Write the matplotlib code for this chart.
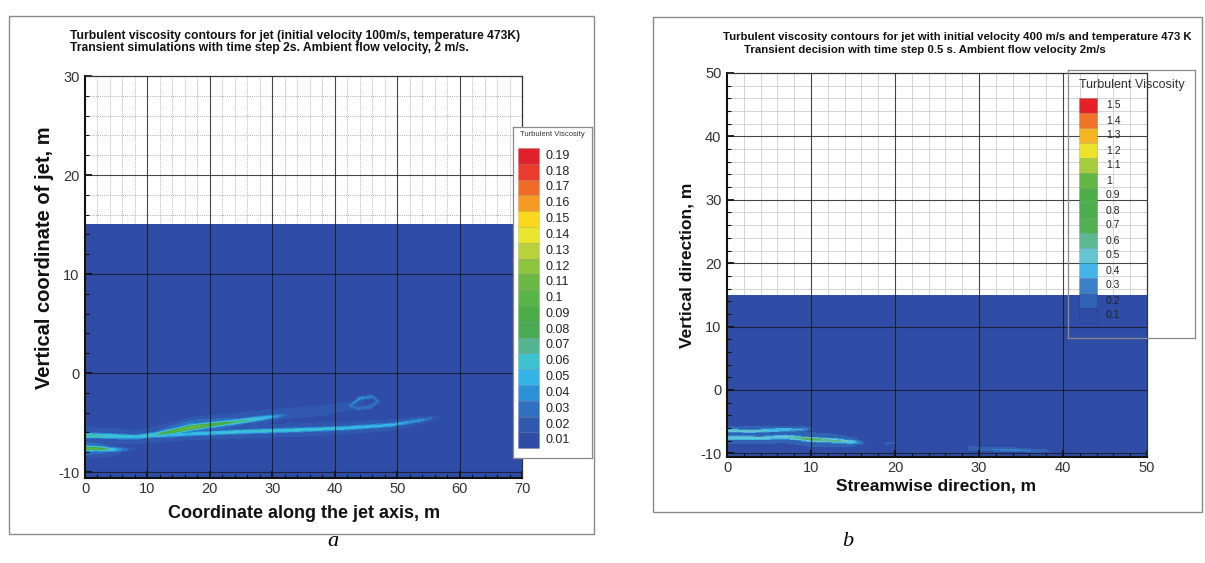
import numpy as np
import matplotlib
matplotlib.use("Agg")
import matplotlib.pyplot as plt
from matplotlib.patches import Rectangle
from matplotlib.colors import ListedColormap, BoundaryNorm
from matplotlib.ticker import MultipleLocator

plt.rcParams['font.family'] = ['Liberation Sans', 'DejaVu Sans']
plt.rcParams['axes.unicode_minus'] = False

# ---- panel a: jet 100 m/s, time step 2 s ----
levels_a = [0.01, 0.02, 0.03, 0.04, 0.05, 0.06, 0.07, 0.08, 0.09, 0.1,
            0.11, 0.12, 0.13, 0.14, 0.15, 0.16, 0.17, 0.18, 0.19]
labels_a = ['0.01', '0.02', '0.03', '0.04', '0.05', '0.06', '0.07', '0.08', '0.09', '0.1',
            '0.11', '0.12', '0.13', '0.14', '0.15', '0.16', '0.17', '0.18', '0.19']
colors_a = ['#2f4ca6', '#3158af', '#2f6fbf', '#2d8fd6', '#35b4e8', '#3ec2d0', '#52b58f',
            '#46ab52', '#4aad4a', '#5ab548', '#6cb844', '#8fc43f', '#b9d23a', '#e8e62e',
            '#fcd81c', '#f59a22', '#f06a28', '#ea3b2c', '#e0202a']

# streak tracks: x [m], y [m], peak turbulent viscosity
a_upper_x = [0, 4, 8, 11, 14, 17, 20, 24, 28, 31, 34]
a_upper_y = [-6.3, -6.35, -6.45, -6.25, -5.9, -5.5, -5.25, -4.95, -4.6, -4.35, -4.1]
a_upper_v = [0.065, 0.06, 0.05, 0.06, 0.09, 0.11, 0.09, 0.07, 0.055, 0.035, 0.0]

a_long_x = [7, 12, 18, 26, 34, 42, 49, 54, 58]
a_long_y = [-6.4, -6.3, -6.1, -5.9, -5.75, -5.55, -5.25, -4.75, -4.3]
a_long_v = [0.02, 0.05, 0.05, 0.055, 0.055, 0.05, 0.045, 0.035, 0.0]

a_low_x = [0, 2, 4, 6, 9]
a_low_y = [-7.6, -7.6, -7.7, -7.7, -7.6]
a_low_v = [0.1, 0.09, 0.06, 0.03, 0.0]

a_ring_x = [42.5, 44.0, 46.0, 47.0, 45.5, 43.5, 42.5]
a_ring_y = [-3.3, -2.6, -2.4, -2.9, -3.5, -3.6, -3.3]
a_ring_v = [0.03, 0.035, 0.03, 0.025, 0.03, 0.025, 0.03]

a_plume_x = [22, 30, 38, 44]
a_plume_y = [-4.6, -4.2, -3.8, -3.2]
a_plume_v = [0.013, 0.018, 0.018, 0.013]

# ---- panel b: jet 400 m/s, time step 0.5 s ----
levels_b = [0.1, 0.2, 0.3, 0.4, 0.5, 0.6, 0.7, 0.8, 0.9, 1.0, 1.1, 1.2, 1.3, 1.4, 1.5]
labels_b = ['0.1', '0.2', '0.3', '0.4', '0.5', '0.6', '0.7', '0.8', '0.9', '1',
            '1.1', '1.2', '1.3', '1.4', '1.5']
colors_b = ['#2f4ca6', '#3063b4', '#3a80c6', '#42b6e8', '#64c4d2', '#5cb892', '#52b052',
            '#4cad4c', '#4eae48', '#62b644', '#a6cd3c', '#ece42c', '#f6b522', '#f07428',
            '#e62029']

b_upper_x = [0, 3, 6, 9, 11]
b_upper_y = [-6.4, -6.5, -6.3, -6.2, -6.0]
b_upper_v = [0.45, 0.42, 0.4, 0.3, 0.0]

b_lower_x = [0, 4, 7, 10, 13, 15, 17]
b_lower_y = [-7.5, -7.6, -7.4, -7.8, -8.0, -8.2, -8.4]
b_lower_v = [0.5, 0.45, 0.5, 0.65, 0.55, 0.4, 0.0]

b_bottom_x = [29, 33, 37, 40]
b_bottom_y = [-9.2, -9.4, -9.6, -9.7]
b_bottom_v = [0.18, 0.22, 0.2, 0.0]

b_spot_x = [19, 22]
b_spot_y = [-8.4, -8.2]
b_spot_v = [0.16, 0.0]

W, H = 1205, 563


def box(x0, y0, x1, y1):
    return [x0 / W, 1 - y1 / H, (x1 - x0) / W, (y1 - y0) / H]


def streak(X, Y, xs, ys, vs, sigma):
    # thin gaussian ridge following a polyline, peak varying along it
    out = np.zeros_like(X)
    for i in range(len(xs) - 1):
        x0, y0, x1, y1 = xs[i], ys[i], xs[i + 1], ys[i + 1]
        dx, dy = x1 - x0, y1 - y0
        t = np.clip(((X - x0) * dx + (Y - y0) * dy) / (dx * dx + dy * dy), 0, 1)
        d2 = (X - x0 - t * dx) ** 2 + (Y - y0 - t * dy) ** 2
        v = vs[i] + t * (vs[i + 1] - vs[i])
        core = v * np.exp(-d2 / (2 * sigma ** 2))
        halo = 0.35 * v * np.exp(-d2 / (2 * (3 * sigma) ** 2))
        out = np.maximum(out, np.maximum(core, halo))
    return out


def flood(ax, X, Y, Z, levels, colors):
    bounds = [-1.0] + list(levels) + [10.0]
    cmap = ListedColormap(colors + [colors[-1]])
    ax.pcolormesh(X, Y, Z, cmap=cmap, norm=BoundaryNorm(bounds, cmap.N),
                  shading='nearest', zorder=1, rasterized=True)


def style_axes(ax, xmax, ymin, ymax, ystep, minor_ls, minor_col):
    ax.set_xlim(0, xmax)
    ax.set_ylim(ymin, ymax)
    ax.xaxis.set_major_locator(MultipleLocator(10))
    ax.yaxis.set_major_locator(MultipleLocator(ystep))
    ax.xaxis.set_minor_locator(MultipleLocator(2))
    ax.yaxis.set_minor_locator(MultipleLocator(2))
    for v in np.arange(2, xmax, 2):
        ax.axvline(v, color=minor_col, lw=0.6, ls=minor_ls, zorder=0.5)
    for v in np.arange(-10, ymax, 2):
        ax.axhline(v, color=minor_col, lw=0.6, ls=minor_ls, zorder=0.5)
    for v in np.arange(10, xmax, 10):
        ax.axvline(v, color='#151515', lw=0.8, alpha=0.75, zorder=3)
    for v in np.arange(-10, ymax, 10):
        if v > ymin:
            ax.axhline(v, color='#151515', lw=0.8, alpha=0.75, zorder=3)
    ax.tick_params(which='both', direction='in', top=False, right=False,
                   labelsize=10.5, colors='#111111', labelcolor='#333333')
    ax.tick_params(which='major', length=5, width=1.3)
    ax.tick_params(which='minor', length=3, width=0.8)
    ax.tick_params(axis='y', pad=4)
    ax.tick_params(axis='x', pad=3)
    for side in ['left', 'bottom']:
        ax.spines[side].set_linewidth(1.5)
        ax.spines[side].set_color('#111111')
    for side in ['top', 'right']:
        ax.spines[side].set_linewidth(0.9)
        ax.spines[side].set_color('#333333')


def colour_key(rect, x0, x1, top, step, colors, labels, lab_x, fs, title, title_xy, title_fs, filled):
    lax = fig.add_axes(box(*rect), zorder=5)
    lax.set_xlim(rect[0], rect[2])
    lax.set_ylim(rect[3], rect[1])
    lax.set_xticks([])
    lax.set_yticks([])
    lax.patch.set_visible(filled)
    lax.set_facecolor('white')
    for s in lax.spines.values():
        s.set_color('#8a8a8a')
        s.set_linewidth(0.9)
    n = len(colors)
    for k in range(n):
        y = top + k * step
        c = colors[n - 1 - k]
        lax.add_patch(Rectangle((x0, y), x1 - x0, step, facecolor=c,
                                edgecolor='#00000022', lw=0.5))
        lax.text(lab_x, y + step / 2, labels[n - 1 - k], fontsize=fs,
                 va='center', ha='left', color='#222222')
    lax.text(title_xy[0], title_xy[1], title, fontsize=title_fs, ha='center',
             va='center', color='#333333')


fig = plt.figure(figsize=(W / 100, H / 100), dpi=100)

# panel frames
fig.patches.append(Rectangle((9 / W, 1 - 534 / H), 585 / W, 518 / H, transform=fig.transFigure,
                             fill=False, ec='#8a8a8a', lw=1.0))
fig.patches.append(Rectangle((653 / W, 1 - 512 / H), 549 / W, 495 / H, transform=fig.transFigure,
                             fill=False, ec='#8a8a8a', lw=1.0))

# ---- panel a ----
axa = fig.add_axes(box(85, 76, 522, 478))
xa = np.linspace(0, 70, 701)
ya = np.linspace(-10.6, 15, 257)
Xa, Ya = np.meshgrid(xa, ya)
Za = np.full_like(Xa, 0.005)
Za = np.maximum(Za, streak(Xa, Ya, a_upper_x, a_upper_y, a_upper_v, 0.22))
Za = np.maximum(Za, streak(Xa, Ya, a_long_x, a_long_y, a_long_v, 0.2))
Za = np.maximum(Za, streak(Xa, Ya, a_low_x, a_low_y, a_low_v, 0.2))
Za = np.maximum(Za, streak(Xa, Ya, a_ring_x, a_ring_y, a_ring_v, 0.18))
Za = np.maximum(Za, streak(Xa, Ya, a_plume_x, a_plume_y, a_plume_v, 0.5))
flood(axa, Xa, Ya, Za, levels_a, colors_a)
style_axes(axa, 70, -10.6, 30, 10, (0, (1, 1.5)), '#9a9a9a')

fig.text(70 / W, 1 - 35.5 / H,
         'Turbulent viscosity contours for jet (initial velocity 100m/s, temperature 473K)',
         fontsize=8.7, fontweight='bold', ha='left', va='center', color='#111111')
fig.text(70 / W, 1 - 48.5 / H,
         'Transient simulations with time step 2s. Ambient flow velocity, 2 m/s.',
         fontsize=8.7, fontweight='bold', ha='left', va='center', color='#111111')
fig.text(304 / W, 1 - 513 / H, 'Coordinate along the jet axis, m', fontsize=13,
         fontweight='bold', ha='center', va='center', color='#111111')
fig.text(45 / W, 1 - 258 / H, 'Vertical coordinate of jet, m', fontsize=14.5,
         fontweight='bold', ha='center', va='center', rotation=90, color='#111111')

colour_key((513, 127, 592, 458), 518, 539, 148, 15.8, colors_a, labels_a, 546, 9,
           'Turbulent Viscosity', (552, 135), 5.5, True)

# ---- panel b ----
axb = fig.add_axes(box(727, 73, 1147, 457))
xb = np.linspace(0, 50, 501)
yb = np.linspace(-10.6, 15, 257)
Xb, Yb = np.meshgrid(xb, yb)
Zb = np.full_like(Xb, 0.05)
Zb = np.maximum(Zb, streak(Xb, Yb, b_upper_x, b_upper_y, b_upper_v, 0.28))
Zb = np.maximum(Zb, streak(Xb, Yb, b_lower_x, b_lower_y, b_lower_v, 0.3))
Zb = np.maximum(Zb, streak(Xb, Yb, b_bottom_x, b_bottom_y, b_bottom_v, 0.3))
Zb = np.maximum(Zb, streak(Xb, Yb, b_spot_x, b_spot_y, b_spot_v, 0.3))
flood(axb, Xb, Yb, Zb, levels_b, colors_b)
style_axes(axb, 50, -10.57, 50, 10, '-', '#cfcfcf')

fig.text(723 / W, 1 - 37.5 / H,
         'Turbulent viscosity contours for jet with initial velocity 400 m/s and temperature 473 K',
         fontsize=8.2, fontweight='bold', ha='left', va='center', color='#111111')
fig.text(744 / W, 1 - 50 / H,
         'Transient decision with time step 0.5 s. Ambient flow velocity 2m/s',
         fontsize=8.2, fontweight='bold', ha='left', va='center', color='#111111')
fig.text(936 / W, 1 - 486 / H, 'Streamwise direction, m', fontsize=12.5,
         fontweight='bold', ha='center', va='center', color='#111111')
fig.text(687 / W, 1 - 265 / H, 'Vertical direction, m', fontsize=12.5,
         fontweight='bold', ha='center', va='center', rotation=90, color='#111111')

colour_key((1068, 70, 1195, 338), 1079, 1097, 98, 15, colors_b, labels_b, 1106, 7.5,
           'Turbulent Viscosity', (1132, 85), 9, False)

# panel captions
fig.text(333 / W, 1 - 542 / H, 'a', fontsize=16, style='italic', family='Liberation Serif',
         ha='center', va='center')
fig.text(848 / W, 1 - 542 / H, 'b', fontsize=16, style='italic', family='Liberation Serif',
         ha='center', va='center')

fig.savefig('out.png', dpi=100)
